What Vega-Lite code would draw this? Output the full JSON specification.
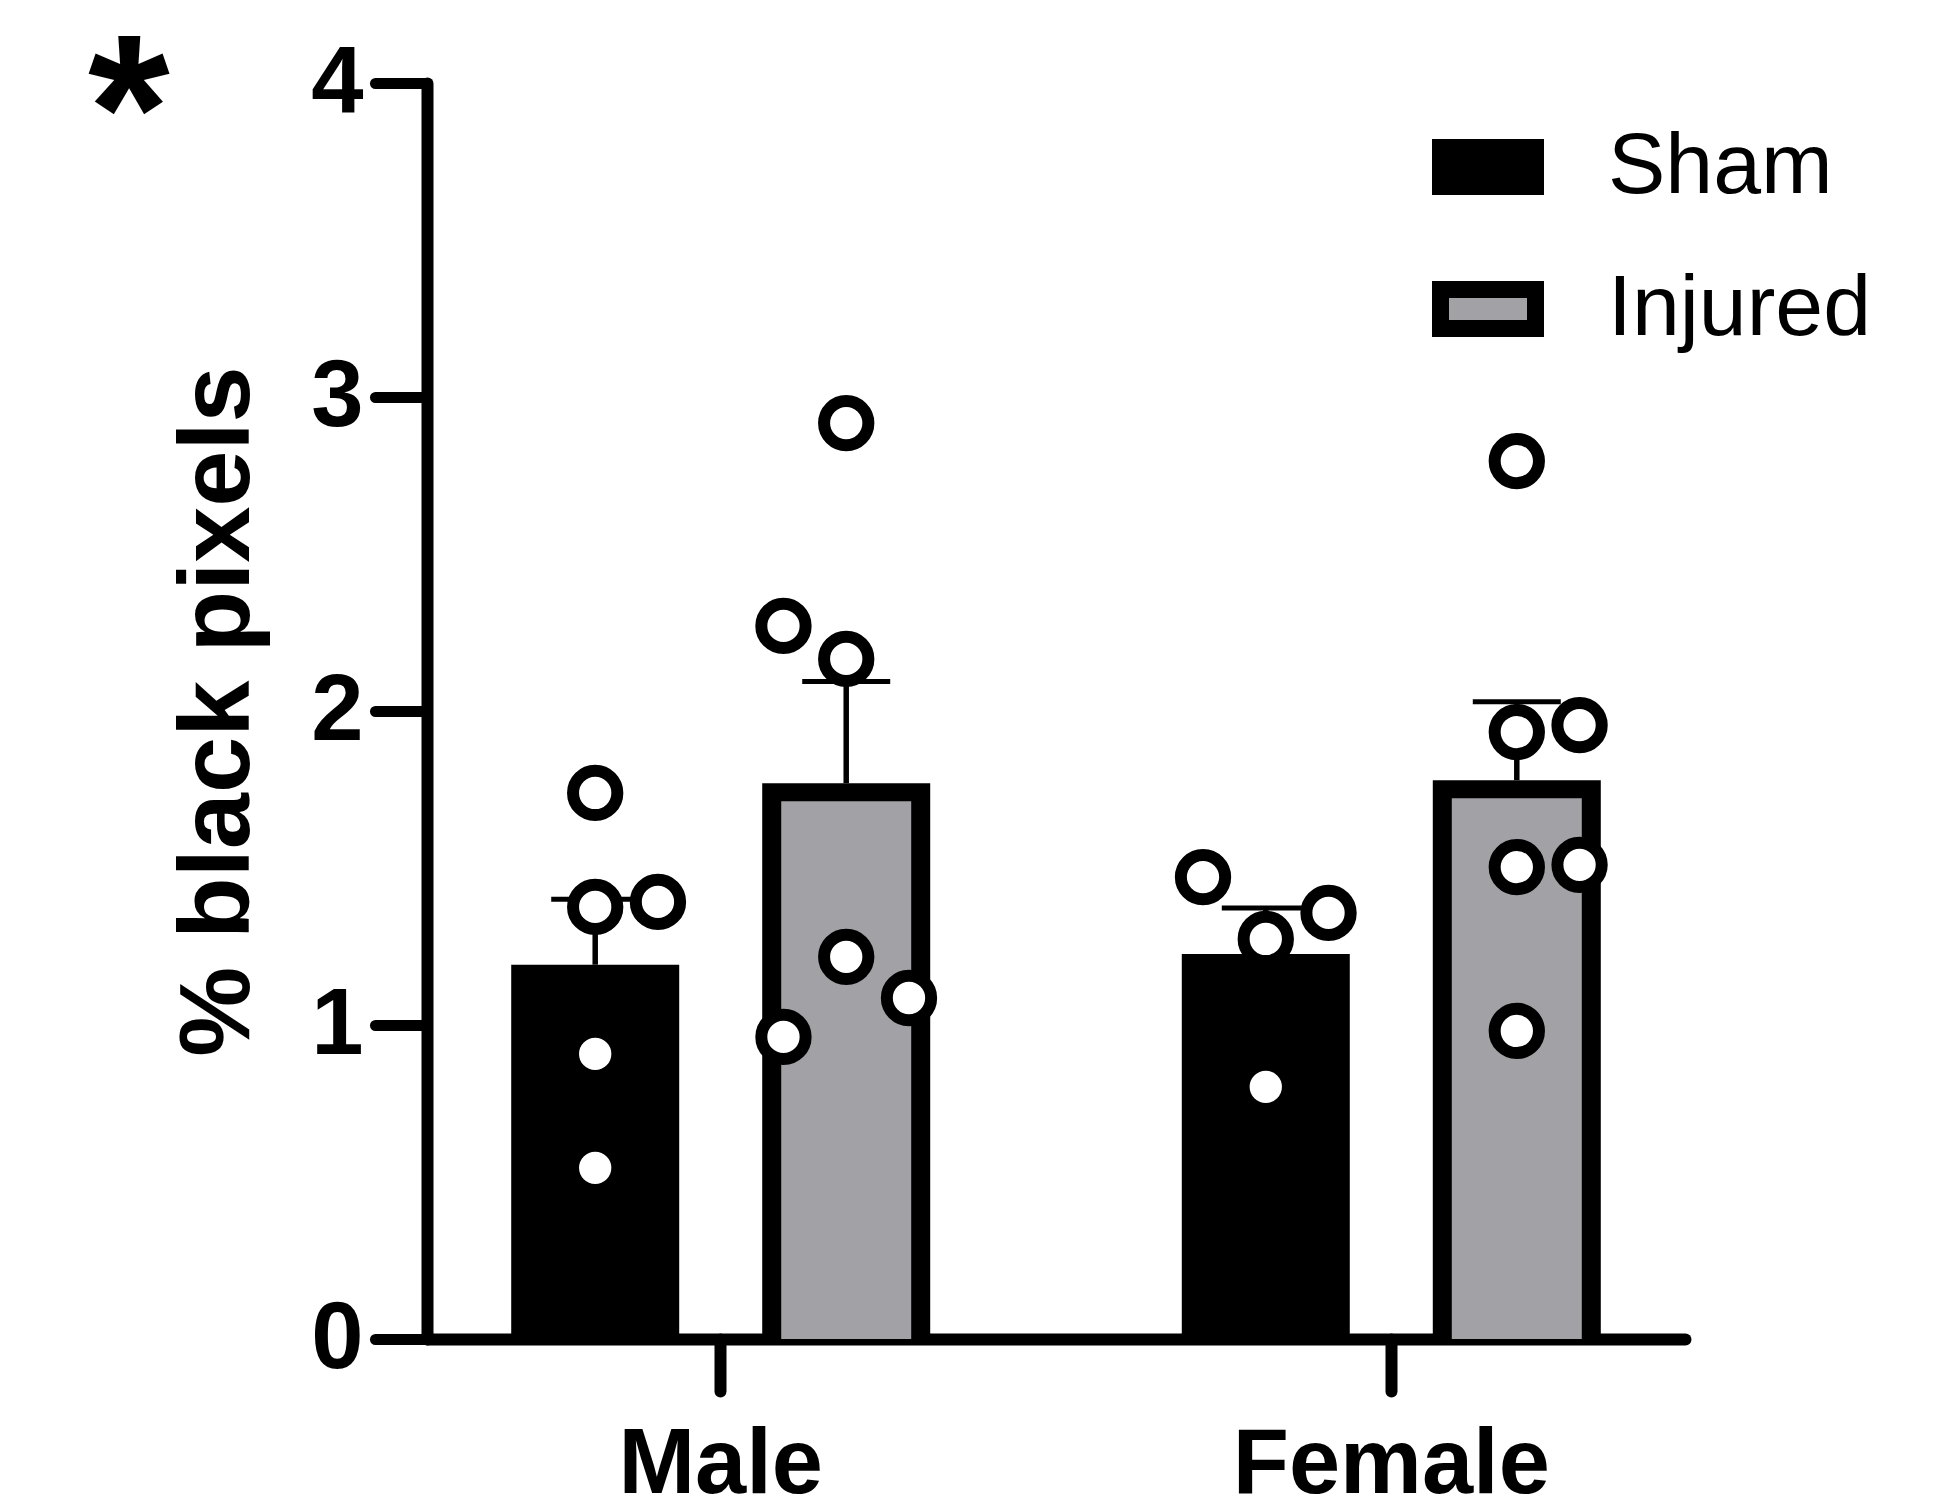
{
  "$schema": "https://vega.github.io/schema/vega-lite/v6.json",
  "autosize": {"type": "none"},
  "padding": {"left": 427, "top": 83, "right": 267, "bottom": 159},
  "width": 1258,
  "height": 1256,
  "background": "white",
  "title": {"text": "*", "anchor": "start", "frame": "group", "orient": "top", "fontSize": 210, "font": "Liberation Sans", "fontWeight": "bold", "color": "black", "baseline": "top", "align": "left", "dx": -339, "offset": -188},
  "data": {"values": [
    {"sex": "Male", "group": "Sham", "lane": "center", "value": 1.739},
    {"sex": "Male", "group": "Sham", "lane": "center", "value": 1.376},
    {"sex": "Male", "group": "Sham", "lane": "right", "value": 1.392},
    {"sex": "Male", "group": "Sham", "lane": "center", "value": 0.908},
    {"sex": "Male", "group": "Sham", "lane": "center", "value": 0.545},
    {"sex": "Male", "group": "Injured", "lane": "center", "value": 2.917},
    {"sex": "Male", "group": "Injured", "lane": "left", "value": 2.271},
    {"sex": "Male", "group": "Injured", "lane": "center", "value": 2.166},
    {"sex": "Male", "group": "Injured", "lane": "center", "value": 1.217},
    {"sex": "Male", "group": "Injured", "lane": "right", "value": 1.086},
    {"sex": "Male", "group": "Injured", "lane": "left", "value": 0.962},
    {"sex": "Female", "group": "Sham", "lane": "left", "value": 1.471},
    {"sex": "Female", "group": "Sham", "lane": "center", "value": 1.274},
    {"sex": "Female", "group": "Sham", "lane": "right", "value": 1.357},
    {"sex": "Female", "group": "Sham", "lane": "center", "value": 0.803},
    {"sex": "Female", "group": "Injured", "lane": "center", "value": 2.796},
    {"sex": "Female", "group": "Injured", "lane": "center", "value": 1.933},
    {"sex": "Female", "group": "Injured", "lane": "right", "value": 1.955},
    {"sex": "Female", "group": "Injured", "lane": "center", "value": 1.503},
    {"sex": "Female", "group": "Injured", "lane": "right", "value": 1.510},
    {"sex": "Female", "group": "Injured", "lane": "center", "value": 0.981}
  ]},
  "encoding": {
    "x": {"field": "sex", "type": "nominal", "sort": ["Male", "Female"],
      "scale": {"domain": ["Male", "Female"], "paddingInner": 0.124, "paddingOuter": 0},
      "axis": {"title": null, "labelAngle": 0, "labelLimit": 0, "labelFont": "Liberation Sans", "labelFontSize": 92, "labelFontWeight": "bold", "labelColor": "black", "labelPadding": 28, "tickSize": 52, "tickWidth": 12, "tickColor": "black", "tickCap": "round", "domainColor": "black", "domainWidth": 12, "domainCap": "round", "grid": false}}
  },
  "layer": [
    {
      "mark": {"type": "bar", "fill": "black"},
      "encoding": {
        "xOffset": {"field": "group", "type": "nominal", "scale": {"domain": ["Sham", "Injured"], "paddingInner": 0.3307, "paddingOuter": 0.3355}},
        "y": {"aggregate": "mean", "field": "value", "type": "quantitative",
          "scale": {"domain": [0, 4], "nice": false, "zero": true},
          "axis": {"title": "% black pixels", "values": [0, 1, 2, 3, 4], "format": "d", "labelLimit": 0, "titleFont": "Liberation Sans", "titleFontSize": 101, "titleFontWeight": "bold", "titleColor": "black", "titlePadding": 41, "labelFont": "Liberation Sans", "labelFontSize": 94, "labelFontWeight": "bold", "labelColor": "black", "labelPadding": 12, "tickSize": 52, "tickWidth": 11, "tickColor": "black", "tickCap": "round", "domainColor": "black", "domainWidth": 12, "domainCap": "round", "grid": false}}
      }
    },
    {
      "mark": {"type": "bar", "width": 130, "yOffset": 18},
      "encoding": {
        "xOffset": {"field": "group", "type": "nominal", "scale": {"domain": ["Sham", "Injured"], "paddingInner": 0.3307, "paddingOuter": 0.3355}},
        "y": {"aggregate": "mean", "field": "value", "type": "quantitative"},
        "fill": {"field": "group", "type": "nominal",
          "scale": {"domain": ["Sham", "Injured"], "range": ["black", "#a1a1a6"]},
          "legend": {"orient": "none", "legendX": 1005, "legendY": 28, "title": null, "direction": "vertical",
            "symbolType": "M-1,-0.41H1V0.41H-1Z", "symbolSize": 9025, "symbolStrokeColor": "black", "symbolStrokeWidth": 17, "symbolOpacity": 1,
            "labelFont": "Liberation Sans", "labelFontSize": 86, "labelColor": "black", "labelLimit": 0, "labelOffset": 64, "rowPadding": 32, "padding": 0,
            "encode": {"symbols": {"update": {"stroke": {"value": "black"}, "strokeWidth": {"value": 17}}}}}}
      }
    },
    {
      "transform": [
        {"aggregate": [{"op": "mean", "field": "value", "as": "mean"}, {"op": "stderr", "field": "value", "as": "sem"}], "groupby": ["sex", "group"]},
        {"calculate": "datum.mean + datum.sem", "as": "upper"}
      ],
      "mark": {"type": "rule", "color": "black", "strokeWidth": 5.5},
      "encoding": {
        "xOffset": {"field": "group", "type": "nominal", "scale": {"domain": ["Sham", "Injured"], "paddingInner": 0.3307, "paddingOuter": 0.3355}},
        "y": {"field": "mean", "type": "quantitative"},
        "y2": {"field": "upper"}
      }
    },
    {
      "transform": [
        {"aggregate": [{"op": "mean", "field": "value", "as": "mean"}, {"op": "stderr", "field": "value", "as": "sem"}], "groupby": ["sex", "group"]},
        {"calculate": "datum.mean + datum.sem", "as": "upper"}
      ],
      "mark": {"type": "tick", "color": "black", "thickness": 5, "size": 88, "opacity": 1},
      "encoding": {
        "xOffset": {"field": "group", "type": "nominal", "scale": {"domain": ["Sham", "Injured"], "paddingInner": 0.3307, "paddingOuter": 0.3355}},
        "y": {"field": "upper", "type": "quantitative"}
      }
    },
    {
      "transform": [{"calculate": "datum.group + ':' + datum.lane", "as": "slot"}],
      "mark": {"type": "circle", "size": 1963, "fill": "white", "stroke": "black", "strokeWidth": 12, "opacity": 1},
      "encoding": {
        "xOffset": {"field": "slot", "type": "nominal",
          "scale": {"type": "point", "domain": ["edge-a", "Sham:left", "Sham:center", "Sham:right", "gap", "Injured:left", "Injured:center", "Injured:right", "edge-b"], "padding": 0.68}},
        "y": {"field": "value", "type": "quantitative"}
      }
    }
  ],
  "resolve": {"scale": {"xOffset": "independent"}},
  "config": {"view": {"stroke": null}}
}
